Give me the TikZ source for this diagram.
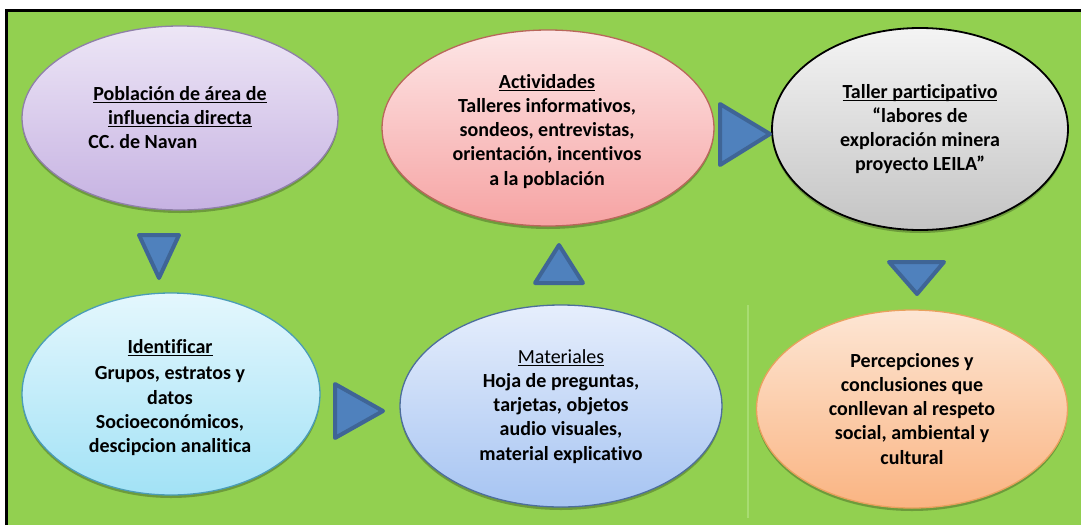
\documentclass[tikz,border=0pt]{standalone}
\usepackage{fontspec}
\setmainfont[Ligatures={NoCommon}]{Carlito}
\usetikzlibrary{shapes.geometric,shadows}
\definecolor{bggreen}{HTML}{92D050}
\definecolor{linegreen}{HTML}{A8DC72}
\definecolor{triblue}{HTML}{4F81BD}
\definecolor{triedge}{HTML}{3F6596}
\definecolor{puT}{HTML}{EDE6F6}\definecolor{puB}{HTML}{C6B2E2}\definecolor{puD}{HTML}{8F80A8}
\definecolor{cyT}{HTML}{E4F7FD}\definecolor{cyB}{HTML}{A2E2F6}\definecolor{cyD}{HTML}{4B9DB7}
\definecolor{reT}{HTML}{FDE6E6}\definecolor{reB}{HTML}{F6A3A3}\definecolor{reD}{HTML}{B9675B}
\definecolor{grT}{HTML}{F4F4F4}\definecolor{grB}{HTML}{C4C4C4}
\definecolor{orT}{HTML}{FDE6D4}\definecolor{orB}{HTML}{FAB482}\definecolor{orD}{HTML}{E9A15E}
\definecolor{blT}{HTML}{E6EEFC}\definecolor{blB}{HTML}{A6C4F2}\definecolor{blD}{HTML}{4D6E9C}
\newsavebox\ulbx
\newcommand\myul[1]{\sbox\ulbx{#1}\rlap{\rule[-3pt]{\wd\ulbx}{1.3pt}}\usebox\ulbx}
\begin{document}
\begin{tikzpicture}[x=1pt,y=-1pt,
  bub/.style={ellipse, inner sep=0pt, line width=1.3pt,
    drop shadow={shadow xshift=0pt, shadow yshift=-3pt, opacity=0.25, fill=black}},
  txt/.style={anchor=base, inner sep=0pt, font=\bfseries\fontsize{20}{24.3}\selectfont},
  tri/.style={fill=triblue, draw=triedge, line width=4pt, line join=round}]
\useasboundingbox (0,0) rectangle (1081,525);
\fill[white] (0,0) rectangle (1081,525);
\fill[bggreen] (8,11.5) rectangle (1081,525);
\draw[black, line width=3pt] (6.5,525) -- (6.5,10) -- (1081,10);
\draw[linegreen, line width=2pt] (748,305) -- (748,518);

% ellipses
\node[bub, minimum width=316pt, minimum height=184pt, top color=puT, bottom color=puB, draw=puD] (e1) at (180,118) {};
\node[bub, minimum width=298pt, minimum height=202pt, top color=cyT, bottom color=cyB, draw=cyD] (e2) at (171,394) {};
\node[bub, minimum width=332pt, minimum height=196pt, top color=reT, bottom color=reB, draw=reD] (e3) at (548,128) {};
\node[bub, minimum width=296pt, minimum height=202pt, top color=grT, bottom color=grB, draw=black, line width=1.8pt] (e4) at (920,129) {};
\node[bub, minimum width=311pt, minimum height=198pt, top color=orT, bottom color=orB, draw=orD] (e5) at (912,409) {};
\node[bub, minimum width=322pt, minimum height=202pt, top color=blT, bottom color=blB, draw=blD] (e6) at (561,406) {};

% texts
\node[txt] (t1) at (180,100) {\begin{tabular}[t]{@{}c@{}}\myul{Población de área de}\\ \myul{influencia directa}\\ \multicolumn{1}{@{}l@{}}{\hspace*{-5pt}CC. de Navan}\end{tabular}};
\node[txt] (t2) at (170,353) {\begin{tabular}[t]{@{}c@{}}\myul{Identificar}\\[2.5pt] Grupos, estratos y\\ datos\\ Socioeconómicos,\\ descipcion analitica\end{tabular}};
\node[txt] (t3) at (547,88) {\begin{tabular}[t]{@{}c@{}}\myul{Actividades}\\ Talleres informativos,\\ sondeos, entrevistas,\\ orientación, incentivos\\ a la población\end{tabular}};
\node[txt] (t4) at (920,98) {\begin{tabular}[t]{@{}c@{}}\myul{Taller participativo}\\ “labores de\\ exploración minera\\ proyecto LEILA”\end{tabular}};
\node[txt] (t5) at (912,367) {\begin{tabular}[t]{@{}c@{}}Percepciones y\\ conclusiones que\\ conllevan al respeto\\ social, ambiental y\\ cultural\end{tabular}};
\node[txt] (t6) at (561,363) {\begin{tabular}[t]{@{}c@{}}\myul{\mdseries Materiales}\\ Hoja de preguntas,\\ tarjetas, objetos\\ audio visuales,\\ material explicativo\end{tabular}};

% arrows (triangles)
\coordinate (d1a) at (139,235); \coordinate (d1b) at (179,235); \coordinate (d1c) at (159,278);
\draw[tri] (d1a) -- (d1b) -- (d1c) -- cycle;
\coordinate (r1a) at (335,384); \coordinate (r1b) at (335,438); \coordinate (r1c) at (383,411);
\draw[tri] (r1a) -- (r1b) -- (r1c) -- cycle;
\coordinate (u1a) at (535,283); \coordinate (u1b) at (583,283); \coordinate (u1c) at (559,245);
\draw[tri] (u1a) -- (u1b) -- (u1c) -- cycle;
\coordinate (r2a) at (720,104); \coordinate (r2b) at (720,165); \coordinate (r2c) at (770,134);
\draw[tri] (r2a) -- (r2b) -- (r2c) -- cycle;
\coordinate (d2a) at (889,262); \coordinate (d2b) at (944,262); \coordinate (d2c) at (917,294);
\draw[tri] (d2a) -- (d2b) -- (d2c) -- cycle;
\end{tikzpicture}
\end{document}
